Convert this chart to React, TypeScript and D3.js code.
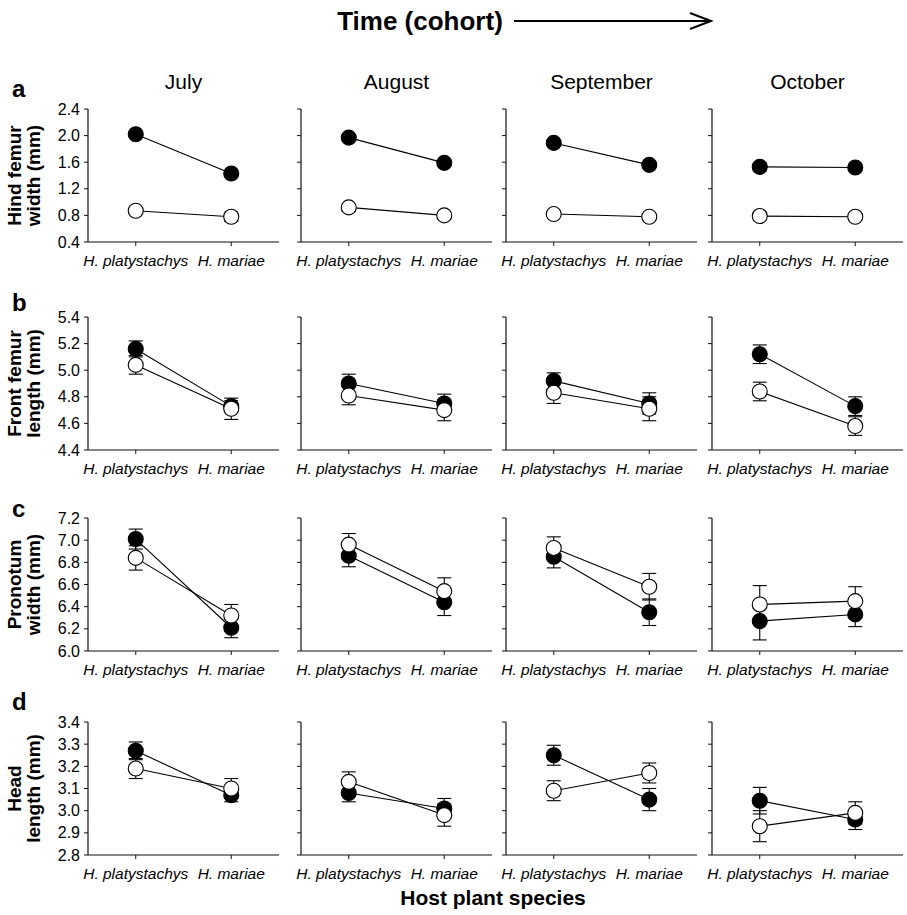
import React from "react";
import * as d3 from "d3";

const months = ["July", "August", "September", "October"];
const hosts = ["H. platystachys", "H. mariae"];

// Hind femur width (mm)
const hindFemurFilled = [[2.02, 1.43], [1.97, 1.59], [1.89, 1.56], [1.53, 1.52]];
const hindFemurFilledErr = [[0.04, 0.04], [0.04, 0.04], [0.04, 0.04], [0.06, 0.04]];
const hindFemurOpen = [[0.87, 0.78], [0.92, 0.8], [0.82, 0.78], [0.79, 0.78]];
const hindFemurOpenErr = [[0.04, 0.07], [0.05, 0.04], [0.03, 0.04], [0.06, 0.05]];

// Front femur length (mm)
const frontFemurFilled = [[5.16, 4.73], [4.9, 4.75], [4.92, 4.75], [5.12, 4.73]];
const frontFemurFilledErr = [[0.06, 0.04], [0.07, 0.07], [0.06, 0.08], [0.07, 0.07]];
const frontFemurOpen = [[5.04, 4.71], [4.81, 4.7], [4.83, 4.71], [4.84, 4.58]];
const frontFemurOpenErr = [[0.07, 0.08], [0.07, 0.08], [0.08, 0.09], [0.07, 0.07]];

// Pronotum width (mm)
const pronotumFilled = [[7.01, 6.21], [6.86, 6.44], [6.85, 6.35], [6.27, 6.33]];
const pronotumFilledErr = [[0.09, 0.09], [0.1, 0.12], [0.1, 0.12], [0.17, 0.11]];
const pronotumOpen = [[6.84, 6.32], [6.96, 6.54], [6.93, 6.58], [6.42, 6.45]];
const pronotumOpenErr = [[0.11, 0.1], [0.1, 0.12], [0.1, 0.12], [0.17, 0.13]];

// Head length (mm)
const headFilled = [[3.27, 3.07], [3.08, 3.01], [3.25, 3.05], [3.045, 2.96]];
const headFilledErr = [[0.04, 0.03], [0.04, 0.045], [0.045, 0.05], [0.06, 0.045]];
const headOpen = [[3.19, 3.1], [3.13, 2.98], [3.09, 3.17], [2.93, 2.99]];
const headOpenErr = [[0.045, 0.045], [0.045, 0.05], [0.045, 0.045], [0.07, 0.05]];

const hindFemurTicks = [0.4, 0.8, 1.2, 1.6, 2.0, 2.4];
const frontFemurTicks = [4.4, 4.6, 4.8, 5.0, 5.2, 5.4];
const pronotumTicks = [6.0, 6.2, 6.4, 6.6, 6.8, 7.0, 7.2];
const headTicks = [2.8, 2.9, 3.0, 3.1, 3.2, 3.3, 3.4];

const rowLetters = ["a", "b", "c", "d"];
const rowTitles = [
  ["Hind femur", "width (mm)"],
  ["Front femur", "length (mm)"],
  ["Pronotum", "width (mm)"],
  ["Head", "length (mm)"],
];

const rows = [
  { ticks: hindFemurTicks, filled: hindFemurFilled, filledErr: hindFemurFilledErr, open: hindFemurOpen, openErr: hindFemurOpenErr },
  { ticks: frontFemurTicks, filled: frontFemurFilled, filledErr: frontFemurFilledErr, open: frontFemurOpen, openErr: frontFemurOpenErr },
  { ticks: pronotumTicks, filled: pronotumFilled, filledErr: pronotumFilledErr, open: pronotumOpen, openErr: pronotumOpenErr },
  { ticks: headTicks, filled: headFilled, filledErr: headFilledErr, open: headOpen, openErr: headOpenErr },
];

const FONT = "'Liberation Sans', Arial, Helvetica, sans-serif";
const colX = [88, 301, 506, 712];
const rowTop = [109, 317, 518, 722];
const PW = 191;
const PH = 133;
const R = 7.5;
const CAP = 7;

function Panel({ row, ri, ci }: { row: any; ri: number; ci: number }) {
  const x0 = colX[ci];
  const top = rowTop[ri];
  const x = d3.scalePoint<string>().domain(hosts).range([x0, x0 + PW]).padding(0.5);
  const dom = [row.ticks[0], row.ticks[row.ticks.length - 1]];
  const y = d3.scaleLinear().domain(dom).range([top + PH, top]);
  const fmt = d3.format(".1f");
  const line = d3
    .line<number>()
    .x((_, i) => x(hosts[i]) as number)
    .y((d) => y(d));
  const series = [
    { vals: row.filled[ci], errs: row.filledErr[ci], fill: "#000" },
    { vals: row.open[ci], errs: row.openErr[ci], fill: "#fff" },
  ];
  return (
    <g>
      <line x1={x0} x2={x0} y1={top} y2={top + PH} stroke="#111" strokeWidth={1.2} />
      {row.ticks.map((t: number) => (
        <g key={t}>
          <line x1={x0 - 4} x2={x0} y1={y(t)} y2={y(t)} stroke="#111" strokeWidth={1} />
          {ci === 0 && (
            <text x={x0 - 8} y={y(t)} dy="0.35em" textAnchor="end" fontSize={16} fontFamily={FONT} fill="#000">
              {fmt(t)}
            </text>
          )}
        </g>
      ))}
      <line x1={x0} x2={x0 + PW} y1={top + PH} y2={top + PH} stroke="#111" strokeWidth={1.2} />
      {hosts.map((h) => (
        <g key={h}>
          <line x1={x(h)} x2={x(h)} y1={top + PH} y2={top + PH + 4} stroke="#111" strokeWidth={1} />
          <text x={x(h)} y={top + PH + 24} textAnchor="middle" fontSize={15.5} fontStyle="italic" fontFamily={FONT} fill="#000">
            {h}
          </text>
        </g>
      ))}
      {series.map((s, si) => (
        <path key={"l" + si} d={line(s.vals) as string} fill="none" stroke="#000" strokeWidth={1.1} />
      ))}
      {series.map((s, si) =>
        s.vals.map((v: number, i: number) => {
          const cx = x(hosts[i]) as number;
          const y1 = y(v + s.errs[i]);
          const y2 = y(v - s.errs[i]);
          return (
            <g key={"e" + si + i} stroke="#000" strokeWidth={1.1}>
              <line x1={cx} x2={cx} y1={y1} y2={y2} />
              <line x1={cx - CAP} x2={cx + CAP} y1={y1} y2={y1} />
              <line x1={cx - CAP} x2={cx + CAP} y1={y2} y2={y2} />
            </g>
          );
        })
      )}
      {series.map((s, si) =>
        s.vals.map((v: number, i: number) => (
          <circle key={"c" + si + i} cx={x(hosts[i])} cy={y(v)} r={R} fill={s.fill} stroke="#000" strokeWidth={1.1} />
        ))
      )}
    </g>
  );
}

export default function App() {
  return (
    <svg
      width={907}
      height={915}
      style={{ position: "absolute", left: 0, top: 0, background: "#fff" }}
      fontFamily={FONT}
    >
      <rect width={907} height={915} fill="#fff" />
      <text x={420} y={30} textAnchor="middle" fontSize={26} fontWeight="bold" fontFamily={FONT}>
        Time (cohort)
      </text>
      <g stroke="#000" strokeWidth={2} fill="none">
        <line x1={514} x2={711} y1={21} y2={21} />
        <polyline points="690,13 711,21 690,29" />
      </g>
      {months.map((m, ci) => (
        <text key={m} x={colX[ci] + PW / 2} y={89} textAnchor="middle" fontSize={21} fontFamily={FONT}>
          {m}
        </text>
      ))}
      {rows.map((row, ri) => {
        const cy = rowTop[ri] + PH / 2;
        return (
          <g key={ri}>
            <text x={12} y={[97, 311, 517, 710][ri]} fontSize={24} fontWeight="bold" fontFamily={FONT}>
              {rowLetters[ri]}
            </text>
            <text transform={`translate(21,${cy}) rotate(-90)`} textAnchor="middle" fontSize={19} fontWeight="bold" fontFamily={FONT}>
              {rowTitles[ri][0]}
            </text>
            <text transform={`translate(40,${cy}) rotate(-90)`} textAnchor="middle" fontSize={19} fontWeight="bold" fontFamily={FONT}>
              {rowTitles[ri][1]}
            </text>
            {months.map((m, ci) => (
              <Panel key={m} row={row} ri={ri} ci={ci} />
            ))}
          </g>
        );
      })}
      <text x={493} y={905} textAnchor="middle" fontSize={21} fontWeight="bold" fontFamily={FONT}>
        Host plant species
      </text>
    </svg>
  );
}
